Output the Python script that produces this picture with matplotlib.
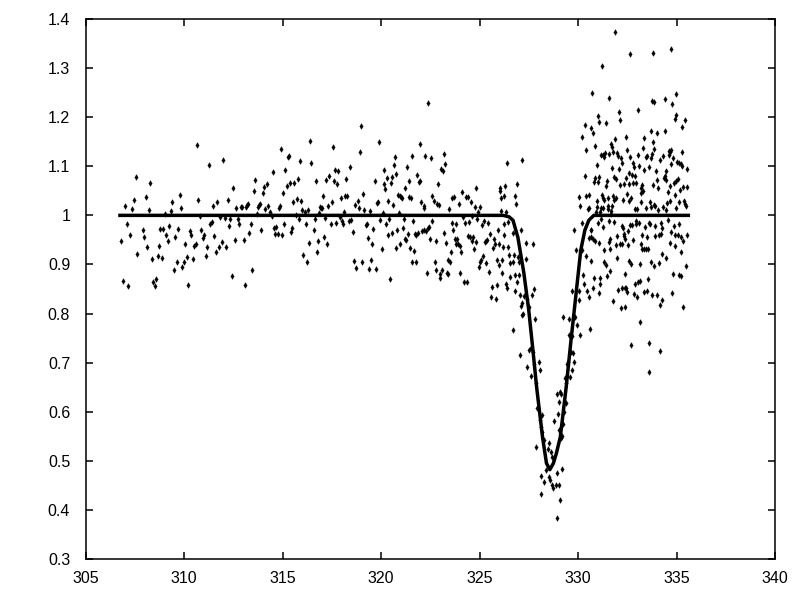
import numpy as np
import matplotlib
matplotlib.use('Agg')
import matplotlib.pyplot as plt

plt.rcParams['font.family'] = ['Liberation Sans', 'DejaVu Sans']

# scatter values, one group per stretch of the x axis
left_x = [306.79, 306.90, 307.00, 307.10, 307.15, 307.25, 307.35, 307.46, 307.56, 307.61,
          307.91, 307.96, 308.06, 308.12, 308.22, 308.27, 308.37, 308.42, 308.52, 308.57,
          308.67, 308.72, 308.78, 308.88, 308.93, 309.03, 309.08, 309.18, 309.23, 309.33,
          309.39, 309.49, 309.54, 309.64, 309.69, 309.79, 309.84, 309.89, 310.00, 310.05,
          310.15, 310.20, 310.30, 310.35, 310.45, 310.50, 310.60, 310.66, 310.71, 310.81,
          310.86, 310.96, 311.01, 311.11, 311.16, 311.26, 311.32, 311.42, 311.47, 311.52,
          311.62, 311.67, 311.77, 311.82, 311.92, 311.98, 312.08, 312.13, 312.23, 312.28,
          312.33, 312.43, 312.48, 312.58, 312.64, 312.74, 312.79, 312.89, 312.94, 313.04,
          313.09, 313.14, 313.19, 313.25, 313.30, 313.40, 313.45, 313.55, 313.60, 313.70,
          313.75, 313.80, 313.85, 313.91, 314.01, 314.06, 314.11, 314.21, 314.26, 314.36,
          314.46, 314.51, 314.57, 314.62, 314.67, 314.77, 314.82, 314.87, 314.92, 314.97,
          315.02, 315.07, 315.12, 315.23, 315.28, 315.33, 315.38, 315.43, 315.48, 315.53,
          315.58, 315.68, 315.73, 315.78, 315.84, 315.89, 315.94, 315.99, 316.04, 316.14,
          316.19, 316.24, 316.29, 316.34, 316.39]
left_y = [0.947, 0.867, 1.020, 0.983, 0.857, 0.961, 1.012, 1.032, 1.079, 0.922,
          0.971, 0.955, 1.037, 0.935, 1.010, 1.065, 0.912, 0.865, 0.857, 0.871,
          0.918, 0.937, 0.973, 0.914, 0.973, 1.002, 0.959, 0.947, 0.979, 1.008,
          1.028, 0.888, 0.955, 0.906, 0.973, 1.041, 1.016, 0.894, 0.906, 0.941,
          0.916, 0.859, 0.969, 0.961, 0.912, 0.937, 0.941, 1.144, 1.032, 0.998,
          0.971, 0.953, 0.959, 0.918, 0.935, 1.102, 0.983, 0.986, 1.020, 0.957,
          0.925, 1.028, 0.935, 0.996, 0.945, 1.112, 0.994, 0.935, 1.032, 0.979,
          0.992, 0.876, 1.055, 0.949, 1.016, 0.992, 0.982, 1.018, 1.018, 0.949,
          0.859, 1.018, 1.022, 1.024, 0.965, 0.982, 0.888, 1.049, 1.073, 1.002,
          1.018, 1.022, 1.024, 0.971, 1.045, 1.057, 1.012, 1.063, 1.020, 1.006,
          0.998, 1.089, 0.975, 0.963, 0.977, 0.963, 1.014, 1.020, 1.136, 0.959,
          1.045, 0.982, 1.093, 1.059, 1.118, 1.120, 1.065, 0.967, 0.975, 1.028,
          1.065, 1.000, 1.034, 1.075, 0.992, 1.110, 1.030, 1.010, 0.920, 1.006,
          0.983, 0.906, 1.010, 0.943, 1.151]

mid_x = [316.43, 316.60, 316.65, 316.70, 316.75, 316.80, 316.85, 316.90, 316.95, 317.01,
         317.06, 317.11, 317.16, 317.21, 317.26, 317.31, 317.36, 317.46, 317.51, 317.56,
         317.61, 317.67, 317.72, 317.77, 317.82, 317.92, 317.97, 318.02, 318.07, 318.12,
         318.17, 318.22, 318.28, 318.38, 318.43, 318.48, 318.58, 318.63, 318.68, 318.73,
         318.83, 318.88, 318.94, 318.99, 319.04, 319.09, 319.14, 319.24, 319.29, 319.34,
         319.39, 319.44, 319.49, 319.55, 319.60, 319.70, 319.75, 319.80, 319.85, 319.90,
         319.95, 320.05, 320.10, 320.15, 320.15, 320.21, 320.26, 320.31, 320.36, 320.36,
         320.41, 320.46, 320.51, 320.56, 320.56, 320.61, 320.66, 320.71, 320.76, 320.76,
         320.82, 320.87, 320.92, 320.97, 320.97, 321.02, 321.07, 321.12, 321.17, 321.22,
         321.22, 321.27, 321.32, 321.37, 321.42, 321.42, 321.48, 321.53, 321.58, 321.58,
         321.63, 321.68, 321.73, 321.78, 321.78, 321.83, 321.88, 321.93, 321.98, 321.98,
         322.03, 322.08, 322.19, 322.19, 322.19, 322.24, 322.29, 322.34, 322.39, 322.39,
         322.44, 322.49, 322.54, 322.59, 322.59, 322.69, 322.75, 322.80, 322.80, 322.85,
         322.90, 322.95, 323.00, 323.00, 323.05, 323.10, 323.15, 323.20, 323.20, 323.25,
         323.30, 323.35, 323.41, 323.41, 323.46, 323.51, 323.56, 323.61, 323.61, 323.66,
         323.71, 323.76, 323.81, 323.81, 323.86, 323.91, 323.96, 324.02, 324.02, 324.07,
         324.12, 324.17, 324.22, 324.27, 324.32, 324.37, 324.42, 324.42, 324.47, 324.52,
         324.57, 324.62, 324.62, 324.68, 324.73, 324.78, 324.83, 324.83, 324.88, 324.93,
         324.98, 325.03, 325.03, 325.08, 325.13, 325.18, 325.23, 325.28, 325.34, 325.34,
         325.39, 325.44, 325.49, 325.54, 325.59, 325.64, 325.69, 325.74, 325.79, 325.84,
         325.89, 325.89, 325.94, 326.00, 326.00, 326.05, 326.05, 326.10, 326.10, 326.15,
         326.15, 326.20, 326.25, 326.25, 326.25, 326.30, 326.35, 326.35, 326.40, 326.40,
         326.45, 326.50, 326.55, 326.55]
mid_y = [1.106, 0.971, 0.992, 1.071, 0.925, 0.947, 1.004, 1.018, 1.016, 1.014,
         1.039, 0.955, 0.994, 1.073, 0.941, 1.020, 1.081, 0.982, 1.028, 1.140,
         1.071, 1.092, 0.984, 1.063, 1.090, 0.996, 1.035, 0.988, 0.982, 1.006,
         1.039, 1.075, 1.039, 0.988, 1.098, 0.990, 0.967, 0.908, 1.022, 0.892,
         1.030, 1.014, 1.130, 1.183, 0.904, 1.043, 1.010, 0.980, 0.982, 0.953,
         0.890, 1.008, 0.910, 0.941, 0.973, 1.071, 0.890, 1.026, 1.028, 1.149,
         0.990, 0.931, 1.004, 1.063, 1.092, 1.053, 0.982, 1.077, 1.030, 0.961,
         0.992, 0.870, 1.065, 1.079, 0.965, 1.022, 1.102, 1.118, 1.085, 0.933,
         0.971, 1.041, 1.004, 1.039, 0.941, 1.037, 1.035, 0.975, 0.992, 1.055,
         0.951, 0.949, 1.098, 0.963, 1.069, 1.037, 0.933, 1.035, 1.120, 0.904,
         0.988, 0.927, 0.963, 0.959, 0.904, 1.083, 0.965, 1.067, 1.145, 1.071,
         1.028, 0.969, 1.020, 1.014, 0.971, 1.120, 0.969, 0.882, 1.228, 0.975,
         0.977, 0.951, 1.116, 1.039, 0.988, 1.030, 0.904, 0.888, 0.947, 1.024,
         1.063, 1.022, 0.880, 0.872, 1.094, 0.888, 1.090, 1.124, 0.965, 1.104,
         0.943, 0.882, 0.880, 0.910, 1.012, 0.904, 0.925, 0.984, 1.035, 0.971,
         1.037, 0.951, 0.982, 0.941, 0.951, 0.941, 1.024, 0.937, 0.882, 0.925,
         1.047, 0.996, 0.865, 0.984, 1.037, 0.865, 1.037, 0.957, 0.986, 0.955,
         1.028, 0.947, 0.998, 0.955, 0.931, 1.018, 1.055, 0.945, 0.992, 1.006,
         0.894, 1.018, 0.904, 0.910, 0.980, 0.918, 0.988, 0.945, 0.902, 0.947,
         0.949, 0.984, 0.884, 0.963, 0.833, 0.855, 0.933, 0.951, 0.941, 0.829,
         0.859, 0.910, 0.971, 0.898, 0.941, 1.055, 1.049, 1.035, 1.008, 0.910,
         0.882, 0.935, 0.982, 0.959, 1.039, 1.059, 1.006, 0.861, 1.106, 0.853,
         0.935, 0.920, 0.874, 0.902]

dip_x = [327.16, 326.91, 326.80, 326.85, 326.45, 326.70, 326.75, 326.70,
         327.11, 327.36, 327.72, 326.96, 327.01, 327.36, 326.80, 327.01, 326.91, 326.80,
         327.77, 327.06, 327.26, 327.67, 327.41, 327.16, 327.11, 327.51, 327.21, 327.16,
         327.82, 326.70, 327.06, 327.51, 327.72, 327.62, 327.77, 328.02, 327.41, 328.07,
         327.63, 327.85, 327.94, 328.07, 328.19, 328.11, 328.18, 327.87, 328.28, 328.53,
         328.46, 328.65, 328.70, 328.14, 328.36, 328.53, 328.28, 328.58, 328.70, 328.75,
         328.87, 329.04, 328.94, 329.19, 328.12, 329.09, 328.94,
         329.80, 330.19, 330.65, 329.90, 330.22, 330.41, 330.66, 330.26, 330.29, 330.56,
         330.46, 330.77, 331.07, 329.70, 330.05, 330.05, 329.85, 329.55, 329.26, 329.95,
         330.61, 330.11, 329.55, 329.72, 329.63, 329.75, 329.80, 329.50, 329.43, 329.70,
         329.60, 329.33, 329.38, 328.92, 329.09, 329.12, 329.04, 329.38, 329.29, 329.00,
         328.78, 329.26, 329.04, 329.17, 329.12]
dip_y = [1.112, 1.063, 1.039, 1.024, 0.986, 0.965, 0.919, 0.906,
         0.970, 0.943, 0.941, 0.916, 0.905, 0.912, 0.878, 0.878, 0.865, 0.846,
         0.849, 0.837, 0.836, 0.837, 0.829, 0.821, 0.815, 0.814, 0.800, 0.798,
         0.788, 0.766, 0.715, 0.726, 0.722, 0.729, 0.698, 0.702, 0.692, 0.684,
         0.673, 0.658, 0.607, 0.583, 0.593, 0.569, 0.559, 0.529, 0.542, 0.537,
         0.525, 0.518, 0.507, 0.470, 0.481, 0.468, 0.456, 0.461, 0.451, 0.444,
         0.451, 0.451, 0.476, 0.483, 0.432, 0.421, 0.383,
         0.970, 0.984, 0.970, 0.929, 0.929, 0.917, 0.908, 0.878, 0.861, 0.834,
         0.845, 0.853, 0.841, 0.845, 0.846, 0.827, 0.793, 0.789, 0.792, 0.776,
         0.768, 0.757, 0.756, 0.755, 0.722, 0.720, 0.702, 0.702, 0.698, 0.686,
         0.670, 0.668, 0.658, 0.637, 0.641, 0.636, 0.619, 0.617, 0.600, 0.595,
         0.582, 0.576, 0.563, 0.550, 0.546]

high_x = [331.88, 332.64, 333.81, 334.72, 331.22, 330.71, 331.57, 334.98, 334.42, 333.76,
          333.86, 334.77, 333.05, 332.08, 331.02, 334.98, 334.93, 332.13, 331.07, 331.42,
          335.43, 330.36, 335.28, 330.66, 330.76, 333.71, 334.01, 334.42, 330.20, 331.88,
          332.44, 333.35, 333.81, 330.86, 330.41, 331.68, 331.73, 331.78, 332.49, 333.30,
          333.86, 333.76, 334.62, 334.72, 334.67, 335.28, 331.17, 331.27, 331.37, 331.32,
          331.57, 331.98, 332.03, 332.18, 332.64, 333.05, 333.50, 333.45, 333.71, 334.17,
          334.32, 334.62, 334.83, 332.23, 332.79, 332.84, 333.10, 333.61, 333.35, 334.72,
          335.03, 335.13, 335.23, 335.28, 335.54, 330.97, 331.73, 332.08, 332.59, 332.74,
          332.90, 333.96, 334.47, 330.36, 330.86, 331.07, 331.83, 331.93, 332.44, 334.42,
          334.37, 334.47, 335.08, 334.98, 334.88, 330.81, 331.02, 331.47, 331.42, 332.13,
          332.34, 332.59, 332.79, 332.95, 333.25, 333.20, 333.30, 333.20, 333.81, 334.06,
          334.01, 334.57, 334.67, 335.18, 335.33, 335.54, 330.05, 330.41, 330.56, 330.97,
          331.22, 331.27, 331.32, 331.52, 331.78, 331.83, 331.93, 332.29, 332.49, 332.59,
          332.69, 333.20, 333.66, 333.86, 333.91, 334.06, 334.32, 334.52, 334.67, 334.93,
          335.13, 335.38, 335.43, 335.49, 330.10, 330.56, 330.97, 331.17, 331.27, 331.52,
          331.73, 331.52, 331.68, 332.90, 333.00, 333.45, 333.71, 334.98, 334.47, 330.51,
          330.91, 331.12, 331.68]
high_y = [1.373, 1.328, 1.330, 1.338, 1.305, 1.250, 1.240, 1.248, 1.238, 1.232,
          1.230, 1.226, 1.214, 1.210, 1.202, 1.204, 1.197, 1.195, 1.191, 1.189,
          1.194, 1.185, 1.179, 1.177, 1.167, 1.171, 1.167, 1.171, 1.159, 1.155,
          1.159, 1.157, 1.149, 1.142, 1.134, 1.145, 1.140, 1.130, 1.134, 1.138,
          1.136, 1.126, 1.132, 1.134, 1.130, 1.130, 1.122, 1.122, 1.128, 1.118,
          1.124, 1.128, 1.120, 1.116, 1.118, 1.122, 1.120, 1.118, 1.116, 1.112,
          1.120, 1.122, 1.116, 1.106, 1.106, 1.098, 1.100, 1.098, 1.092, 1.104,
          1.108, 1.106, 1.104, 1.100, 1.094, 1.102, 1.096, 1.094, 1.087, 1.083,
          1.081, 1.090, 1.090, 1.081, 1.077, 1.079, 1.079, 1.075, 1.077, 1.081,
          1.077, 1.072, 1.075, 1.071, 1.065, 1.067, 1.067, 1.069, 1.059, 1.061,
          1.063, 1.063, 1.065, 1.065, 1.061, 1.055, 1.049, 1.045, 1.061, 1.055,
          1.073, 1.047, 1.059, 1.051, 1.057, 1.057, 1.037, 1.039, 1.041, 1.030,
          1.041, 1.035, 1.032, 1.035, 1.039, 1.032, 1.035, 1.032, 1.043, 1.030,
          1.035, 1.028, 1.028, 1.022, 1.020, 1.010, 1.018, 1.026, 1.030, 1.041,
          1.028, 1.030, 1.024, 1.020, 1.020, 1.016, 1.018, 1.016, 1.016, 1.020,
          1.020, 1.012, 1.008, 1.012, 1.012, 1.014, 1.018, 1.014, 1.010, 1.012,
          1.006, 1.006, 1.002]

low_x = [330.66, 330.66, 330.56, 330.76, 330.86, 331.07, 331.17, 331.27, 331.02, 331.32,
         331.57, 331.63, 331.63, 331.57, 331.32, 331.42, 331.63, 331.47, 330.81, 331.12,
         331.12, 331.83, 331.98, 331.93, 332.13, 332.23, 332.34, 332.34, 332.39, 332.29,
         332.23, 332.54, 332.64, 332.74, 332.95, 332.95, 333.10, 332.79, 332.54, 333.20,
         333.25, 333.35, 333.45, 333.56, 333.25, 333.50, 333.40, 333.61, 333.66, 333.91,
         333.91, 334.11, 334.22, 334.27, 334.22, 334.57, 334.88, 335.13, 334.72, 334.67,
         334.93, 335.08, 335.23, 335.33, 334.93, 335.23, 335.52, 331.98, 332.59, 332.69,
         333.15, 333.71, 333.86, 334.11, 334.27, 334.47, 332.39, 335.49, 334.83, 335.13,
         335.23, 333.56, 333.15, 333.05, 332.90, 332.39, 332.23, 332.44, 332.03, 332.49,
         332.84, 333.00, 333.35, 333.50, 333.76, 334.01, 334.27, 334.17, 334.77, 331.78,
         332.18, 332.39, 335.33, 333.15, 332.69, 333.61, 334.17, 333.61]
low_y = [0.971, 0.955, 0.953, 0.951, 0.947, 0.943, 0.992, 0.976, 0.984, 0.929,
         0.988, 0.931, 0.951, 0.945, 0.904, 0.898, 0.886, 0.876, 0.872, 0.872,
         0.861, 0.986, 0.957, 0.939, 0.941, 0.941, 0.963, 0.958, 0.951, 0.974,
         0.978, 0.969, 0.980, 0.980, 0.988, 0.982, 0.984, 0.949, 0.939, 0.941,
         0.931, 0.931, 0.931, 0.931, 0.959, 0.955, 0.976, 0.984, 0.982, 0.978,
         0.957, 0.961, 0.963, 0.974, 0.984, 0.990, 0.978, 0.982, 0.966, 0.943,
         0.937, 0.961, 0.955, 0.947, 0.959, 0.925, 0.961, 0.914, 0.908, 0.900,
         0.900, 0.904, 0.896, 0.902, 0.921, 0.914, 0.880, 0.896, 0.880, 0.878,
         0.876, 0.870, 0.866, 0.864, 0.861, 0.853, 0.853, 0.853, 0.847, 0.843,
         0.839, 0.833, 0.843, 0.845, 0.837, 0.837, 0.827, 0.817, 0.841, 0.825,
         0.811, 0.813, 0.813, 0.782, 0.735, 0.741, 0.723, 0.680]

# fitted curve
fit_x = [306.75, 326.2, 326.5, 326.7, 326.95, 327.25, 327.5, 327.7, 327.9, 328.2, 328.4,
         328.57, 328.75, 328.9, 329.1, 329.4, 329.63, 329.9, 330.14, 330.35, 330.55,
         330.8, 335.6]
fit_y = [1.0, 1.0, 0.997, 0.99, 0.955, 0.883, 0.807, 0.73, 0.65, 0.548, 0.495,
         0.482, 0.495, 0.515, 0.548, 0.65, 0.74, 0.84, 0.929, 0.97, 0.99,
         1.0, 1.0]

x_ticks = [305, 310, 315, 320, 325, 330, 335, 340]
y_ticks = [0.3, 0.4, 0.5, 0.6, 0.7, 0.8, 0.9, 1.0, 1.1, 1.2, 1.3, 1.4]
y_labels = ['0.3', '0.4', '0.5', '0.6', '0.7', '0.8', '0.9', '1', '1.1', '1.2', '1.3', '1.4']

all_x = np.concatenate([left_x, mid_x, dip_x, high_x, low_x])
all_y = np.concatenate([left_y, mid_y, dip_y, high_y, low_y])

fig = plt.figure(figsize=(8, 6), dpi=100)
ax = fig.add_axes([85.5 / 800, 1 - 559 / 600, 689.5 / 800, 540 / 600])

ax.plot(all_x, all_y, linestyle='none', marker='d', markersize=3.0,
        markerfacecolor='black', markeredgecolor='black', markeredgewidth=0.2)
ax.plot(fit_x, fit_y, color='black', linewidth=2.5, solid_joinstyle='round')

ax.set_xlim(305, 340)
ax.set_ylim(0.3, 1.4)
ax.set_xticks(x_ticks)
ax.set_yticks(y_ticks)
ax.set_yticklabels(y_labels)
ax.tick_params(direction='in', length=5, width=1.1, top=True, right=True,
               labelsize=11.5, color='black')
ax.tick_params(axis='x', pad=8.5)
ax.tick_params(axis='y', pad=11)
for spine in ax.spines.values():
    spine.set_linewidth(1.1)

fig.savefig('out.png', dpi=100)
plt.close(fig)
